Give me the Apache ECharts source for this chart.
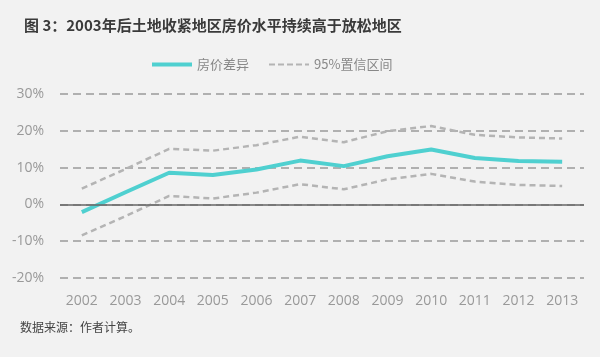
<!DOCTYPE html>
<html><head><meta charset="utf-8">
<script src="https://cdn.jsdelivr.net/npm/echarts@6/dist/echarts.min.js"></script>
<style>html,body{margin:0;padding:0;background:#f2f2f2}#c{width:600px;height:357px}</style>
</head><body><div id="c"></div>
<script>
const years = ['2002','2003','2004','2005','2006','2007','2008','2009','2010','2011','2012','2013'];
const priceDiff = [-2.1, 3.3, 8.6, 8.0, 9.5, 11.9, 10.4, 13.1, 14.9, 12.6, 11.8, 11.6];
const ciUpper = [4.3, 9.6, 15.1, 14.6, 16.1, 18.4, 16.9, 19.9, 21.3, 18.9, 18.2, 17.9];
const ciLower = [-8.4, -3.2, 2.3, 1.6, 3.2, 5.5, 4.1, 6.8, 8.3, 6.2, 5.3, 5.0];
const yTicks = [-20, -10, 0, 10, 20, 30];

const chart = echarts.init(document.getElementById('c'), null, {renderer:'canvas'});
const ciStyle = {color:'#b4b4b4', width:2.5, type:[6,4]};
chart.setOption({
  backgroundColor:'#f2f2f2',
  animation:false,
  title:{
    text:'图 3：2003年后土地收紧地区房价水平持续高于放松地区',
    left:19, top:13,
    textStyle:{fontFamily:'Noto Sans CJK SC', fontSize:15, fontWeight:'bold', color:'#3a3a3a'}
  },
  legend:{
    top:53, left:147, itemGap:20, itemWidth:40, itemHeight:14,
    textStyle:{fontFamily:'Noto Sans CJK SC', fontSize:13, color:'#888'},
    data:[
      {name:'房价差异', icon:'path://M0,0 L40,0 L40,4 L0,4 Z', itemStyle:{color:'#4fd0d0'}},
      {name:'95%置信区间', icon:'path://M0,0 L6,0 L6,2 L0,2 Z M9,0 L15,0 L15,2 L9,2 Z M18,0 L24,0 L24,2 L18,2 Z M27,0 L33,0 L33,2 L27,2 Z M36,0 L40,0 L40,2 L36,2 Z', itemStyle:{color:'#b4b4b4'}}
    ]
  },
  grid:{left:60, right:16, top:94, bottom:79},
  xAxis:{
    type:'category', data:years, boundaryGap:true,
    axisLine:{show:false}, axisTick:{show:false},
    axisLabel:{color:'#999', fontSize:14, fontFamily:'Open Sans', margin:16, interval:0}
  },
  yAxis:{
    type:'value', min:yTicks[0], max:yTicks[yTicks.length-1], interval:10,
    axisLine:{show:false}, axisTick:{show:false},
    axisLabel:{color:'#999', fontSize:14, fontFamily:'Open Sans', margin:16, formatter:v=>v+'%'},
    splitLine:{lineStyle:{color:'#9a9a9a', width:1.5, type:[8,5]}}
  },
  series:[
    {name:'95%置信区间', type:'line', data:ciUpper, symbol:'none', lineStyle:ciStyle, itemStyle:{color:'#b4b4b4'}, z:2},
    {name:'95%置信区间', type:'line', data:ciLower, symbol:'none', lineStyle:ciStyle, itemStyle:{color:'#b4b4b4'}, z:2},
    {name:'房价差异', type:'line', data:priceDiff, symbol:'none', lineStyle:{color:'#4fd0d0', width:4}, itemStyle:{color:'#4fd0d0'}, z:3,
     markLine:{silent:true, symbol:'none', label:{show:false}, lineStyle:{color:'#666', width:1.5, type:'solid'}, data:[{yAxis:0}]}}
  ],
  graphic:[{
    type:'text', left:20, top:321,
    style:{text:'数据来源：作者计算。', font:'12px "Noto Sans CJK SC"', fill:'#444'}
  }]
});
</script></body></html>
